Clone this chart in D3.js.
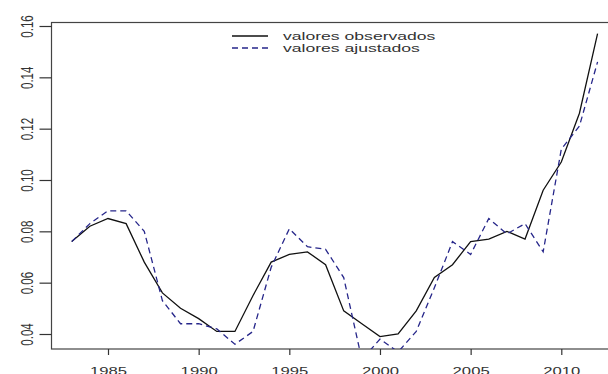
<!DOCTYPE html>
<html>
<head>
<meta charset="utf-8">
<script src="https://cdn.jsdelivr.net/npm/d3@7"></script>
<style>
  body { margin: 0; background: #fff; }
  svg { display: block; }
  text { font-family: "Liberation Sans", Arial, sans-serif; fill: #333; }
</style>
</head>
<body>
<svg width="608" height="374"></svg>
<script>
// years on the x axis
const years = d3.range(1983, 2013);
// observed values (solid line)
const observados = [0.076, 0.082, 0.085, 0.083, 0.068, 0.056, 0.050, 0.046, 0.041, 0.041,
	0.055, 0.068, 0.071, 0.072, 0.067, 0.049, 0.044, 0.039, 0.040, 0.049,
	0.062, 0.067, 0.076, 0.077, 0.080, 0.077, 0.096, 0.107, 0.126, 0.157];
// fitted values (dashed line)
const ajustados = [0.076, 0.083, 0.088, 0.088, 0.080, 0.053, 0.044, 0.044, 0.042, 0.036,
	0.041, 0.066, 0.081, 0.074, 0.073, 0.062, 0.030, 0.038, 0.033, 0.041,
	0.058, 0.076, 0.071, 0.085, 0.079, 0.083, 0.072, 0.112, 0.121, 0.146];
const xTicks = [1985, 1990, 1995, 2000, 2005, 2010];
const yTicks = [0.04, 0.06, 0.08, 0.10, 0.12, 0.14, 0.16];
const legendLabels = ["valores observados", "valores ajustados"];

const svg = d3.select("svg");
const box = { left: 51.5, top: 22.5, right: 612, bottom: 349 };

const x = d3.scaleLinear().domain([1985, 2010]).range([108, 561.3]);
const y = d3.scaleLinear().domain([0.04, 0.16]).range([334, 26]);

svg.append("clipPath").attr("id", "plotclip")
	.append("rect")
	.attr("x", box.left).attr("y", box.top)
	.attr("width", box.right - box.left).attr("height", box.bottom - box.top);

// box
svg.append("rect")
	.attr("x", box.left).attr("y", box.top)
	.attr("width", box.right - box.left).attr("height", box.bottom - box.top)
	.attr("fill", "none").attr("stroke", "#444").attr("stroke-width", 1.2);

// y axis
const yAxis = svg.append("g").attr("transform", `translate(${box.left},0)`)
	.call(d3.axisLeft(y).tickValues(yTicks).tickSize(12).tickFormat(d3.format(".2f")));
yAxis.select(".domain").remove();
yAxis.selectAll(".tick line").attr("stroke", "#333").attr("stroke-width", 1.2);
yAxis.selectAll(".tick text")
	.attr("x", null).attr("dy", null)
	.attr("text-anchor", "middle")
	.attr("font-size", 11.5)
	.attr("transform", `translate(${33 - box.left},0) scale(1.45,1) rotate(-90)`);

// x axis
const xAxis = svg.append("g").attr("transform", `translate(0,${box.bottom})`)
	.call(d3.axisBottom(x).tickValues(xTicks).tickSize(6).tickFormat(d3.format("d")));
xAxis.select(".domain").remove();
xAxis.selectAll(".tick line").attr("stroke", "#333").attr("stroke-width", 1.2);
xAxis.selectAll(".tick text")
	.attr("y", null).attr("dy", null)
	.attr("text-anchor", "middle")
	.attr("font-size", 11.5)
	.attr("transform", "translate(0,26) scale(1.45,1)");

const line = d3.line().x((d, i) => x(years[i])).y(d => y(d));
const plot = svg.append("g").attr("clip-path", "url(#plotclip)");

plot.append("path").datum(observados)
	.attr("d", line)
	.attr("fill", "none").attr("stroke", "#111").attr("stroke-width", 1.3);

plot.append("path").datum(ajustados)
	.attr("d", line)
	.attr("fill", "none").attr("stroke", "#26268a").attr("stroke-width", 1.3)
	.attr("stroke-dasharray", "6,4");

// legend
const legend = svg.append("g");
const rowY = [36, 48];
legendLabels.forEach((lab, i) => {
	legend.append("line")
		.attr("x1", 232).attr("x2", 268).attr("y1", rowY[i]).attr("y2", rowY[i])
		.attr("stroke", i === 0 ? "#111" : "#26268a").attr("stroke-width", 1.3)
		.attr("stroke-dasharray", i === 0 ? null : "6,4");
	legend.append("text")
		.attr("font-size", 11)
		.attr("transform", `translate(283,${rowY[i] + 4}) scale(1.6,1)`)
		.text(lab);
});
</script>
</body>
</html>
